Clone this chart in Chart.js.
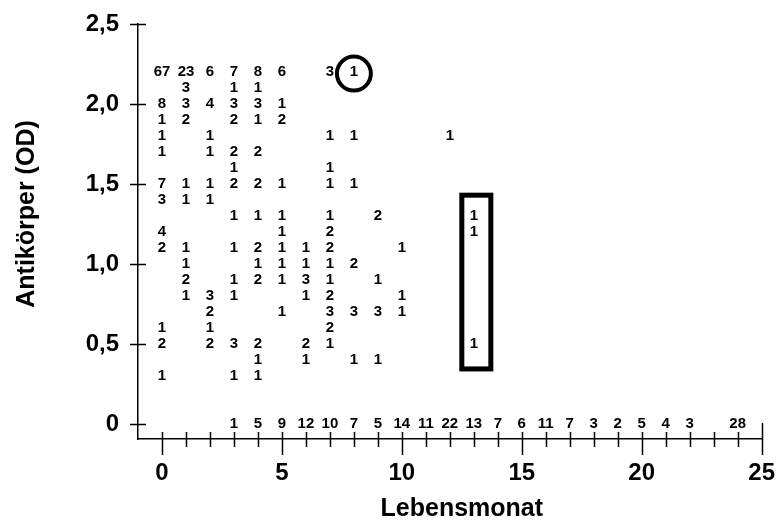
<!DOCTYPE html>
<html><head><meta charset="utf-8">
<script src="https://cdn.jsdelivr.net/npm/chart.js@4/dist/chart.umd.min.js"></script>
<style>html,body{margin:0;padding:0;background:#fff}</style>
</head><body>
<canvas id="c" width="777" height="523"></canvas>
<script>
// Counts per OD level, indexed by month (Lebensmonat 0,1,2,...); null = no entry
const od_2_2 = [67, 23, 6, 7, 8, 6, null, 3, 1];
const od_2_1 = [null, 3, null, 1, 1];
const od_2_0 = [8, 3, 4, 3, 3, 1];
const od_1_9 = [1, 2, null, 2, 1, 2];
const od_1_8 = [1, null, 1, null, null, null, null, 1, 1, null, null, null, 1];
const od_1_7 = [1, null, 1, 2, 2];
const od_1_6 = [null, null, null, 1, null, null, null, 1];
const od_1_5 = [7, 1, 1, 2, 2, 1, null, 1, 1];
const od_1_4 = [3, 1, 1];
const od_1_3 = [null, null, null, 1, 1, 1, null, 1, null, 2, null, null, null, 1];
const od_1_2 = [4, null, null, null, null, 1, null, 2, null, null, null, null, null, 1];
const od_1_1 = [2, 1, null, 1, 2, 1, 1, 2, null, null, 1];
const od_1_0 = [null, 1, null, null, 1, 1, 1, 1, 2];
const od_0_9 = [null, 2, null, 1, 2, 1, 3, 1, null, 1];
const od_0_8 = [null, 1, 3, 1, null, null, 1, 2, null, null, 1];
const od_0_7 = [null, null, 2, null, null, 1, null, 3, 3, 3, 1];
const od_0_6 = [1, null, 1, null, null, null, null, 2];
const od_0_5 = [2, null, 2, 3, 2, null, 2, 1, null, null, null, null, null, 1];
const od_0_4 = [null, null, null, null, 1, null, 1, null, 1, 1];
const od_0_3 = [1, null, null, 1, 1];
const od_0_0 = [null, null, null, 1, 5, 9, 12, 10, 7, 5, 14, 11, 22, 13, 7, 6, 11, 7, 3, 2, 5, 4, 3, null, 28];

const odLevels = [2.2, 2.1, 2.0, 1.9, 1.8, 1.7, 1.6, 1.5, 1.4, 1.3, 1.2, 1.1, 1.0, 0.9, 0.8, 0.7, 0.6, 0.5, 0.4, 0.3, 0.0];
const odRows = [od_2_2, od_2_1, od_2_0, od_1_9, od_1_8, od_1_7, od_1_6, od_1_5, od_1_4, od_1_3, od_1_2, od_1_1, od_1_0, od_0_9, od_0_8, od_0_7, od_0_6, od_0_5, od_0_4, od_0_3, od_0_0];

const xTickValues = [0, 5, 10, 15, 20, 25];
const xTickLabels = ['0', '5', '10', '15', '20', '25'];
const yTickValues = [0, 0.5, 1.0, 1.5, 2.0, 2.5];
const yTickLabels = ['0', '0,5', '1,0', '1,5', '2,0', '2,5'];
const xTitle = 'Lebensmonat';
const yTitle = 'Antikörper (OD)';

// highlighted marks (data coordinates)
const circledPoint = {x: 8, y: 2.19};
const boxedRange = {x0: 12.5, x1: 13.71, y0: 0.344, y1: 1.43};

const points = [];
odRows.forEach((row, r) => {
  row.forEach((n, m) => {
    if (n !== null) points.push({x: m, y: odLevels[r], n: n});
  });
});

const FONT = '"Liberation Sans", Arial, Helvetica, sans-serif';

const overlay = {
  id: 'overlay',
  beforeDatasetsDraw(chart) {
    const ctx = chart.ctx;
    const xs = chart.scales.x, ys = chart.scales.y;
    const axisY = ys.getPixelForValue(ys.min);
    const axisX = xs.getPixelForValue(xs.min);
    ctx.save();
    ctx.strokeStyle = '#000';
    ctx.lineWidth = 1.5;
    ctx.beginPath();
    for (let m = 0; m <= 25; m++) {
      const px = Math.round(xs.getPixelForValue(m)) + 0.5;
      let up = 7, down = 8;
      if (m % 5 === 0) { up = 7; down = 16; }
      if (m === 25) { up = 16; down = 16; }
      ctx.moveTo(px, axisY - up);
      ctx.lineTo(px, axisY + down);
    }
    yTickValues.forEach(v => {
      const py = Math.round(ys.getPixelForValue(v)) + 0.5;
      ctx.moveTo(axisX - 8, py);
      ctx.lineTo(axisX + 8, py);
    });
    ctx.stroke();
    ctx.restore();
  },
  afterDatasetsDraw(chart) {
    const ctx = chart.ctx;
    const xs = chart.scales.x, ys = chart.scales.y;
    const meta = chart.getDatasetMeta(0);
    const data = chart.data.datasets[0].data;
    ctx.save();
    ctx.fillStyle = '#000';
    ctx.font = 'bold 15px ' + FONT;
    ctx.textAlign = 'center';
    ctx.textBaseline = 'middle';
    meta.data.forEach((el, i) => {
      ctx.fillText(String(data[i].n), el.x, el.y);
    });
    // circle
    ctx.strokeStyle = '#000';
    ctx.lineWidth = 4;
    ctx.beginPath();
    ctx.arc(xs.getPixelForValue(circledPoint.x), ys.getPixelForValue(circledPoint.y), 17, 0, Math.PI * 2);
    ctx.stroke();
    // box
    ctx.lineWidth = 5;
    const bx0 = xs.getPixelForValue(boxedRange.x0), bx1 = xs.getPixelForValue(boxedRange.x1);
    const by0 = ys.getPixelForValue(boxedRange.y1), by1 = ys.getPixelForValue(boxedRange.y0);
    ctx.strokeRect(bx0, by0, bx1 - bx0, by1 - by0);
    // axis titles
    ctx.font = 'bold 25px ' + FONT;
    ctx.textAlign = 'center';
    ctx.textBaseline = 'alphabetic';
    const xMid = (xs.getPixelForValue(0) + xs.getPixelForValue(xs.max)) / 2;
    ctx.fillText(xTitle, xMid, 516);
    ctx.translate(34, (ys.getPixelForValue(0) + ys.getPixelForValue(ys.max)) / 2 - 10);
    ctx.rotate(-Math.PI / 2);
    ctx.fillText(yTitle, 0, 0);
    ctx.restore();
  }
};

new Chart(document.getElementById('c'), {
  type: 'scatter',
  data: {
    datasets: [{
      label: 'Anzahl',
      data: points,
      pointRadius: 0,
      pointHoverRadius: 0,
      showLine: false
    }]
  },
  options: {
    responsive: false,
    animation: false,
    devicePixelRatio: 1,
    layout: { padding: { top: 24, right: 15, left: 0, bottom: 0 } },
    plugins: { legend: { display: false }, tooltip: { enabled: false } },
    scales: {
      x: {
        type: 'linear', min: -1, max: 25,
        afterBuildTicks: s => { s.ticks = xTickValues.map(v => ({ value: v })); },
        afterFit: s => { s.height = 84; },
        grid: { display: true, drawOnChartArea: false, drawTicks: true, tickLength: 18, color: 'rgba(0,0,0,0)' },
        border: { display: true, color: '#000', width: 1.5 },
        ticks: {
          autoSkip: false, maxRotation: 0, padding: 2, color: '#000',
          font: { family: FONT, size: 24, weight: 'bold' },
          callback: (v, i) => xTickLabels[i]
        },
        title: { display: false, text: xTitle }
      },
      y: {
        type: 'linear', min: -0.094, max: 2.5,
        afterBuildTicks: s => { s.ticks = yTickValues.map(v => ({ value: v })); },
        afterFit: s => { s.width = 138; },
        grid: { display: true, drawOnChartArea: false, drawTicks: true, tickLength: 17, color: 'rgba(0,0,0,0)' },
        border: { display: true, color: '#000', width: 1.5 },
        ticks: {
          autoSkip: false, padding: 2, color: '#000',
          font: { family: FONT, size: 24, weight: 'bold' },
          callback: (v, i) => yTickLabels[i]
        },
        title: { display: false, text: yTitle }
      }
    }
  },
  plugins: [overlay]
});
</script>
</body></html>
